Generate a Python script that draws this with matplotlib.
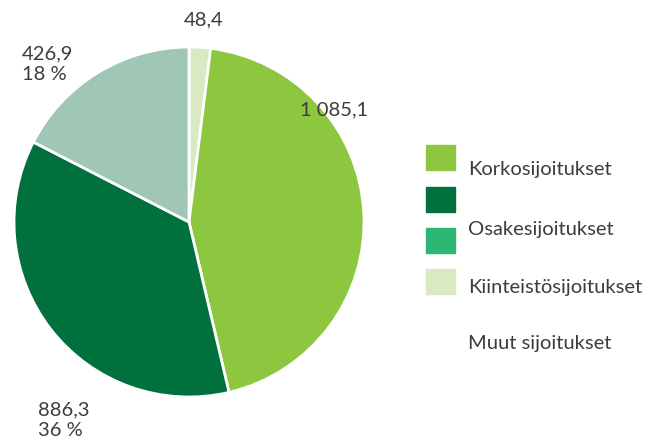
import matplotlib.pyplot as plt
from matplotlib.patches import Rectangle

values = [48.4, 1085.1, 886.3, 426.9]
value_labels = ["48,4", "1 085,1", "886,3\n36 %", "426,9\n18 %"]
slice_colors = ["#d9eac3", "#8dc63f", "#00713d", "#a0c6b5"]

legend_labels = ["Korkosijoitukset", "Osakesijoitukset", "Kiinteistösijoitukset", "Muut sijoitukset"]
legend_colors = ["#8dc63f", "#00713d", "#2bb673", "#d9eac3"]

W, H = 658, 441
plt.rcParams['font.family'] = ['Lato', 'DejaVu Sans']
fig = plt.figure(figsize=(W / 100, H / 100), dpi=100)

# pie drawn in its own axes so angles are not flipped
R = 175
pax = fig.add_axes([(189 - R) / W, 1 - (222 + R) / H, 2 * R / W, 2 * R / H])
pax.pie(values, colors=slice_colors, startangle=90, counterclock=False,
        wedgeprops=dict(edgecolor='white', linewidth=2))
pax.set_xlim(-1, 1)
pax.set_ylim(-1, 1)
pax.axis('off')

# overlay axes in pixel coords for labels and legend
ax = fig.add_axes([0, 0, 1, 1])
ax.set_xlim(0, W)
ax.set_ylim(H, 0)
ax.axis('off')
ax.set_zorder(2)

txt = dict(color='#3c3c3c', fontsize=14.5)
ax.text(204, 20, value_labels[0], ha='center', va='center', **txt)
ax.text(300, 110, value_labels[1], ha='left', va='center', **txt)
ax.text(38, 420, value_labels[2], ha='left', va='center', linespacing=1.25, **txt)
ax.text(22, 64, value_labels[3], ha='left', va='center', linespacing=1.25, **txt)

patch_y = [145, 187, 228, 269]
for y, c in zip(patch_y, legend_colors):
    ax.add_patch(Rectangle((426, y), 29, 25, color=c))
text_y = [169, 229, 287, 344]
for y, lab in zip(text_y, legend_labels):
    ax.text(468, y, lab, ha='left', va='center', **txt)

fig.savefig('out.png', dpi=100)
